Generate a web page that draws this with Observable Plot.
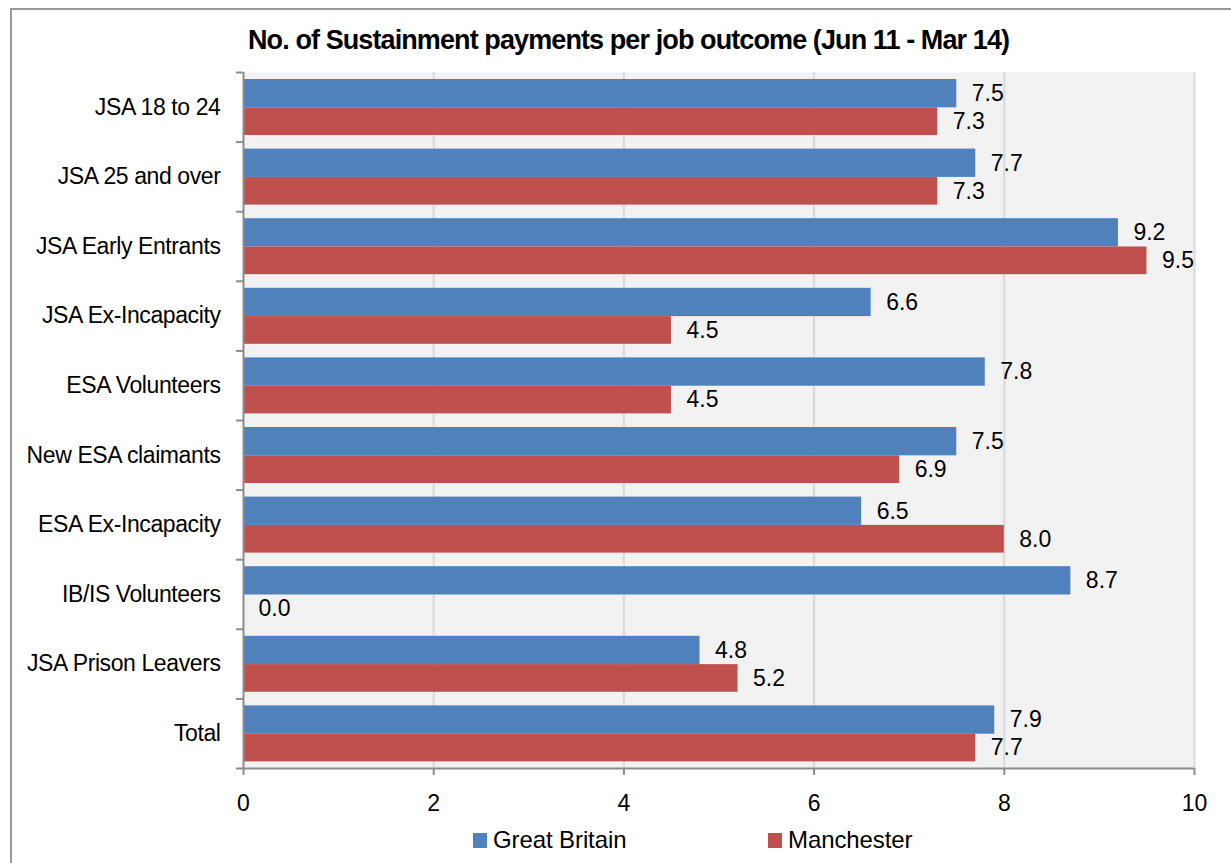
<!DOCTYPE html>
<html><head><meta charset="utf-8">
<script src="https://cdn.jsdelivr.net/npm/d3@7"></script>
<script src="https://cdn.jsdelivr.net/npm/@observablehq/plot@0.6"></script>
<style>
html,body{margin:0;padding:0;background:#fff;overflow:hidden;}
#wrap{position:relative;width:1231px;height:863px;overflow:hidden;background:#fff;font-family:"Liberation Sans",Arial,sans-serif;color:#000;}
#border{position:absolute;left:10px;top:8px;width:1300px;height:900px;border-top:2px solid #989898;border-left:2px solid #989898;}
#title{position:absolute;left:248px;top:27px;font-weight:bold;font-size:27px;white-space:nowrap;line-height:1;}
#chart{position:absolute;left:0;top:0;}
.leg{position:absolute;top:828px;font-size:24px;display:flex;align-items:center;white-space:nowrap;line-height:1;letter-spacing:-0.1px;}
.sw{width:14px;height:15px;display:inline-block;margin-right:6px;}
</style>
</head>
<body>
<div id="wrap">
  <div id="border"></div>
  <div id="chart"></div>
  <div id="title"></div>
  <div id="legend"></div>
</div>
<script>
const categories = ["JSA 18 to 24","JSA 25 and over","JSA Early Entrants","JSA Ex-Incapacity","ESA Volunteers","New ESA claimants","ESA Ex-Incapacity","IB/IS Volunteers","JSA Prison Leavers","Total"];
const greatBritain = [7.5,7.7,9.2,6.6,7.8,7.5,6.5,8.7,4.8,7.9];
const manchester = [7.3,7.3,9.5,4.5,4.5,6.9,8.0,0.0,5.2,7.7];
const xTicks = [0,2,4,6,8,10];
const seriesNames = ["Great Britain","Manchester"];
const seriesColors = ["#4f81bd","#c0504d"];
const titleText = "No. of Sustainment payments per job outcome (Jun 11 - Mar 14)";

const rows = categories.map((c,i)=>({cat:c, i, gb:greatBritain[i], man:manchester[i]}));
const font = '"Liberation Sans",Arial,sans-serif';
const n = categories.length;

const chart = Plot.plot({
  width:1231, height:863,
  marginLeft:243, marginRight:37, marginTop:72, marginBottom:95,
  style:{fontFamily:font, fontSize:"23px", color:"#000", background:"transparent", overflow:"visible"},
  x:{domain:[0,10]},
  y:{domain:[0,n], reverse:true},
  marks:[
    Plot.frame({fill:"#f2f2f2", stroke:null}),
    Plot.ruleX(xTicks.filter(d=>d>0), {stroke:"#d9d9d9", strokeWidth:2}),
    Plot.rect(rows, {x1:0, x2:"gb", y1:"i", y2:d=>d.i+1, fill:seriesColors[0], insetTop:7, insetBottom:34.3}),
    Plot.rect(rows, {x1:0, x2:"man", y1:"i", y2:d=>d.i+1, fill:seriesColors[1], insetTop:35.3, insetBottom:6.6}),
    Plot.ruleX([0], {stroke:"#8c8c8c", strokeWidth:2}),
    Plot.ruleY([n], {stroke:"#8c8c8c", strokeWidth:2}),
    Plot.axisY(d3.range(n+1), {tickSize:7, tickFormat:()=>"", stroke:"#8c8c8c", strokeWidth:2, label:null}),
    Plot.axisY(rows.map(r=>r.i+0.5), {tickSize:0, tickPadding:23, tickFormat:v=>categories[Math.floor(v)], fontSize:23, label:null}),
    Plot.axisX(xTicks, {tickSize:7, tickPadding:19, stroke:"#8c8c8c", strokeWidth:2, fontSize:23, label:null}),
    Plot.text(rows, {x:"gb", y:d=>d.i+0.5, text:d=>d.gb.toFixed(1), dx:15, dy:-13.65, textAnchor:"start", fontSize:23, fill:"#000"}),
    Plot.text(rows, {x:"man", y:d=>d.i+0.5, text:d=>d.man.toFixed(1), dx:15, dy:14.35, textAnchor:"start", fontSize:23, fill:"#000"})
  ]
});
document.getElementById("chart").appendChild(chart);
chart.querySelectorAll('[aria-label="y-axis tick label"] text').forEach(t => t.style.letterSpacing = "-0.4px");

const title = document.getElementById("title");
title.textContent = titleText;
const w = title.getBoundingClientRect().width;
title.style.letterSpacing = ((762 - w) / (titleText.length - 1)) + "px";

const legend = document.getElementById("legend");
const legendLeft = [473, 768];
seriesNames.forEach((name, k) => {
  const d = document.createElement("div");
  d.className = "leg";
  d.style.left = legendLeft[k] + "px";
  const s = document.createElement("span");
  s.className = "sw";
  s.style.background = seriesColors[k];
  d.appendChild(s);
  d.appendChild(document.createTextNode(name));
  legend.appendChild(d);
});
</script>
</body></html>
